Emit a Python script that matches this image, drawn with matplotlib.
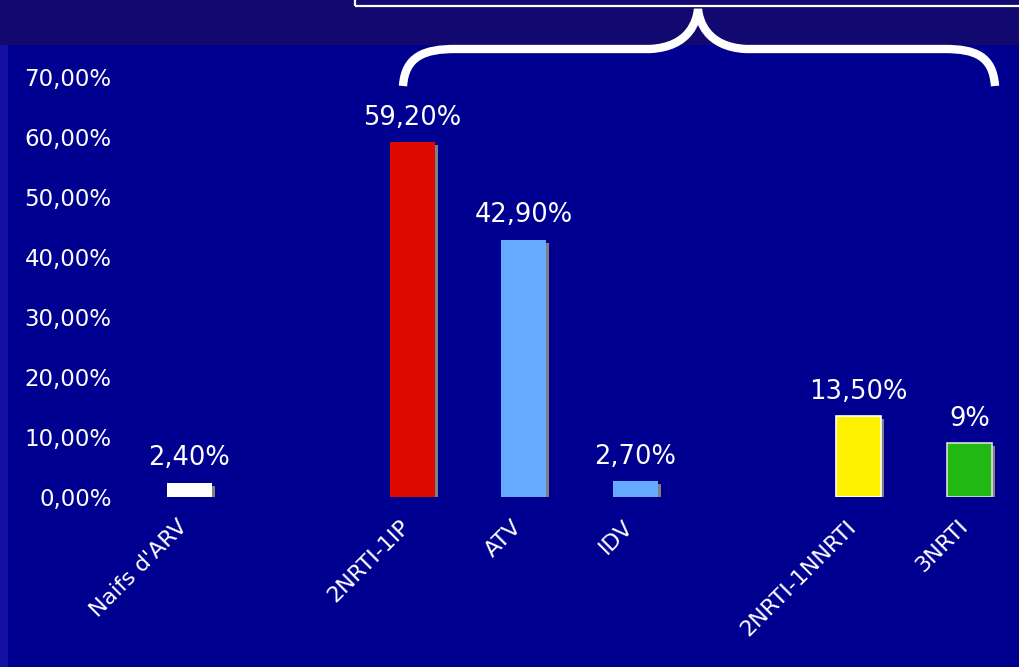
import numpy as np
import matplotlib.pyplot as plt
import matplotlib.transforms as mtransforms
from matplotlib.patches import Rectangle, PathPatch
from matplotlib.path import Path

# data
categories = ["Naifs d'ARV", "2NRTI-1IP", "ATV", "IDV", "2NRTI-1NNRTI", "3NRTI"]
slots = [0, 2, 3, 4, 6, 7]          # empty slots 1 and 5 separate the groups
values = [2.4, 59.2, 42.9, 2.7, 13.5, 9.0]
value_labels = ["2,40%", "59,20%", "42,90%", "2,70%", "13,50%", "9%"]
bar_colors = ["#ffffff", "#dd0800", "#66aaff", "#66aaff", "#fff200", "#22b814"]
edge_colors = ["none", "none", "none", "none", "#ffffff", "#dddddd"]
yticks = [0, 10, 20, 30, 40, 50, 60, 70]
ytick_labels = ["{:d},00%".format(t) for t in yticks]

W, H = 1019, 667
fig = plt.figure(figsize=(W / 100, H / 100), dpi=100)
fig.patch.set_facecolor("#000090")

# background bands (figure pixel coords, y from top)
def px_rect(x0, y0, x1, y1, **kw):
    fig.patches.append(Rectangle((x0 / W, 1 - y1 / H), (x1 - x0) / W, (y1 - y0) / H,
                                 transform=fig.transFigure, **kw))

px_rect(0, 0, W, 45, facecolor="#110870", edgecolor="none", zorder=0)
px_rect(0, 45, 8, H, facecolor="#1410a4", edgecolor="none", zorder=0)
px_rect(355, -20, W + 20, 6, facecolor="none", edgecolor="white", lw=1.6, zorder=1)

# axes placed in pixels: 0% at y=497, 70% at y=77; slot 0 at x=189, spacing 111.5
ax_left, ax_right, ax_top, ax_bot = 120, W, 45, 497
ax = fig.add_axes([ax_left / W, 1 - ax_bot / H, (ax_right - ax_left) / W, (ax_bot - ax_top) / H])
ax.set_facecolor("none")
step = 111.5
ax.set_xlim((ax_left - 189) / step, (ax_right - 189) / step)
ax.set_ylim(0, (ax_bot - ax_top) / 6.0)
for s in ax.spines.values():
    s.set_visible(False)

x = np.array(slots, dtype=float)
width = 45 / step
# gray drop shadow on the right side
ax.bar(x + 3 / step, np.array(values) - 0.5, width=width, color="#808080", zorder=2)
ax.bar(x, values, width=width, color=bar_colors, edgecolor=edge_colors, linewidth=1.2, zorder=3)

for xi, v, lab in zip(x, values, value_labels):
    ax.annotate(lab, (xi, v), xytext=(0, 8), textcoords="offset points",
                ha="center", va="bottom", color="white", fontsize=18.5)

ax.set_yticks(yticks)
ax.set_yticklabels(ytick_labels, color="white", fontsize=16.5)
ax.set_xticks(x)
ax.set_xticklabels(categories, rotation=45, ha="right", rotation_mode="anchor",
                   color="white", fontsize=16)
ax.tick_params(axis="both", length=0)
ax.tick_params(axis="y", pad=6)
ax.tick_params(axis="x", pad=14)
shift = mtransforms.ScaledTranslation(-12 / 100, 0, fig.dpi_scale_trans)
for t in ax.get_xticklabels():
    t.set_transform(t.get_transform() + shift)

# curly brace over the treated groups
def p(xx, yy):
    return (xx / W, 1 - yy / H)

verts = [p(403, 86), p(405, 56), p(425, 49), p(455, 49),
         p(650, 49),
         p(690, 47), p(697, 20), p(698, 9),
         p(699, 20), p(706, 47), p(746, 49),
         p(945, 49),
         p(975, 49), p(993, 56), p(995, 86)]
codes = [Path.MOVETO, Path.CURVE4, Path.CURVE4, Path.CURVE4,
         Path.LINETO,
         Path.CURVE4, Path.CURVE4, Path.CURVE4,
         Path.CURVE4, Path.CURVE4, Path.CURVE4,
         Path.LINETO,
         Path.CURVE4, Path.CURVE4, Path.CURVE4]
fig.patches.append(PathPatch(Path(verts, codes), transform=fig.transFigure,
                             facecolor="none", edgecolor="white", lw=6,
                             capstyle="butt", zorder=4))

fig.savefig("out.png", dpi=100, facecolor=fig.get_facecolor())
